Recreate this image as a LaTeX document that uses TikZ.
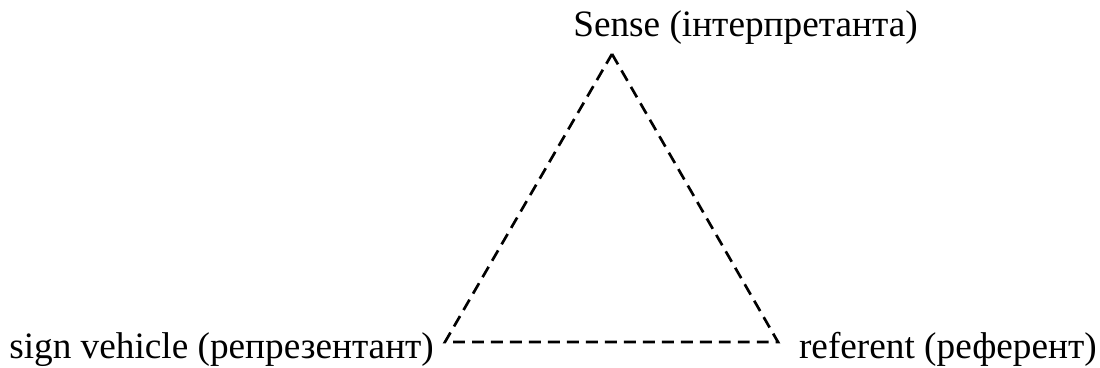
\documentclass[tikz,border=0pt]{standalone}
\usepackage{fontspec}
\setmainfont{Liberation Serif}
\usetikzlibrary{positioning}

\begin{document}
\begin{tikzpicture}[x=0.025cm, y=-0.025cm,
  label text/.style={inner sep=0pt, font=\fontsize{26.5}{32}\selectfont},
  sign edge/.style={dash pattern=on 8.5pt off 5pt, line width=1.9pt}]
\path[use as bounding box] (0,0) rectangle (1100,368);
\coordinate (apex) at (612,54);
\coordinate (vehicle) at (445,342);
\coordinate (object) at (778,342);
\node[label text, anchor=base west] (sense) at (573,36) {Sense (інтерпретанта)};
\node[label text, anchor=base west] (sign) at (9,358) {sign vehicle (репрезентант)};
\node[label text, anchor=base east] (referent) at (1097,358) {referent (референт)};
\draw[sign edge] (apex) -- (object) -- (vehicle) -- cycle;
\end{tikzpicture}
\end{document}
